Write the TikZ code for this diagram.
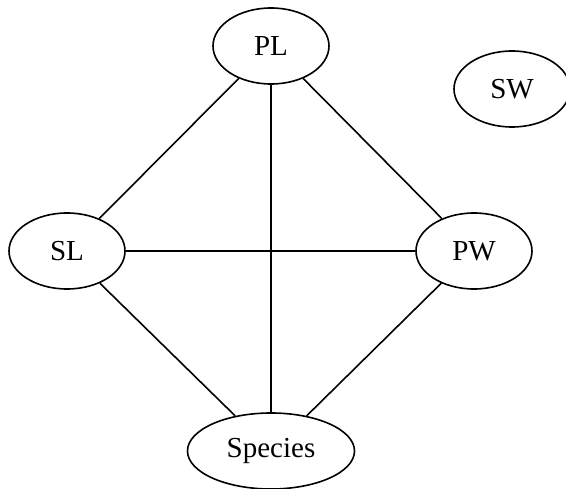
\documentclass[tikz,border=0pt]{standalone}
\usepackage{fontspec}
\setmainfont{Liberation Serif}
\usetikzlibrary{shapes.geometric}
\tikzset{
  var/.style={ellipse, draw=black, line width=1.6pt, inner sep=0pt,
              minimum width=116pt, minimum height=76pt,
              font=\fontsize{29}{34}\selectfont},
  link/.style={draw=black, line width=1.6pt},
}
\begin{document}
\begin{tikzpicture}[x=1pt, y=-1pt]

  %% Frame
  \useasboundingbox (0,0) rectangle (566,489);

  %% Nodes
  \node[var] (PL) at (271,46)  {PL};
  \node[var] (SW) at (512,89)  {SW};
  \node[var] (SL) at (67,251)  {SL};
  \node[var] (PW) at (474,251) {PW};
  \node[var, minimum width=167pt] (Species) at (271,451) {Species};

  %% Edges
  \draw[link] (PL) -- (SL);
  \draw[link] (PL) -- (PW);
  \draw[link] (PL) -- (Species);
  \draw[link] (SL) -- (PW);
  \draw[link] (SL) -- (Species);
  \draw[link] (PW) -- (Species);

\end{tikzpicture}
\end{document}
